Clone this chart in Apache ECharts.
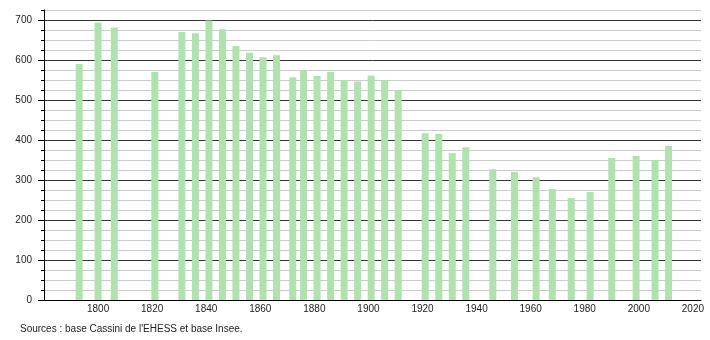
<!DOCTYPE html>
<html>
<head>
<meta charset="utf-8">
<script src="https://cdn.jsdelivr.net/npm/echarts@6/dist/echarts.min.js"></script>
<style>html,body{margin:0;padding:0;background:#fff}#c{width:710px;height:340px}</style>
</head>
<body>
<div id="c"></div>
<script>
const years = [1793, 1800, 1806, 1821, 1831, 1836, 1841, 1846, 1851, 1856, 1861, 1866, 1872, 1876, 1881, 1886, 1891, 1896, 1901, 1906, 1911, 1921, 1926, 1931, 1936, 1946, 1954, 1962, 1968, 1975, 1982, 1990, 1999, 2006, 2011];
const population = [590, 694, 681, 570, 670, 667, 699, 677, 635, 618, 607, 612, 557, 574, 560, 570, 550, 546, 561, 550, 525, 417, 415, 367, 382, 327, 320, 307, 277, 255, 270, 355, 360, 350, 385];
const yMajorTicks = [0, 100, 200, 300, 400, 500, 600, 700];
const xTickLabels = [1800, 1820, 1840, 1860, 1880, 1900, 1920, 1940, 1960, 1980, 2000, 2020];
const sourceText = "Sources : base Cassini de l'EHESS et base Insee.";

const font = 'Liberation Sans, Arial, sans-serif';
const chart = echarts.init(document.getElementById('c'), null, {renderer: 'canvas'});
chart.setOption({
  animation: false,
  backgroundColor: '#fff',
  grid: {left: 44, top: 10, width: 657, height: 290, containLabel: false},
  graphic: [{
    type: 'text', left: 20, top: 324,
    style: {text: sourceText, fill: '#222', font: '10px ' + font}
  }],
  xAxis: {
    type: 'value', min: 1780, max: 2023, interval: 20,
    axisLine: {show: true, lineStyle: {color: '#000', width: 1}},
    axisTick: {show: false},
    splitLine: {show: false},
    axisLabel: {
      margin: 4, color: '#222', fontSize: 10, fontFamily: font,
      formatter: v => xTickLabels.includes(v) ? String(v) : ''
    }
  },
  yAxis: [{
    type: 'value', min: 0, max: 725, interval: 25,
    axisLine: {show: true, lineStyle: {color: '#000', width: 1}},
    axisTick: {show: true, length: 3, lineStyle: {color: '#000'}},
    splitLine: {show: true, lineStyle: {color: ['#333', '#ccc', '#ccc', '#ccc'], width: 1}},
    axisLabel: {
      margin: 12, color: '#222', fontSize: 10, fontFamily: font,
      formatter: v => yMajorTicks.includes(v) ? String(v) : ''
    }
  }, {
    type: 'value', min: 0, max: 725, position: 'left',
    axisLine: {show: false},
    axisTick: {show: true, length: 6, customValues: yMajorTicks, lineStyle: {color: '#000'}},
    splitLine: {show: false},
    axisLabel: {show: false}
  }],
  series: [{
    type: 'bar',
    data: years.map((y, i) => [y, population[i]]),
    barWidth: 7,
    itemStyle: {color: '#b0e2b0'},
    z: 1
  }]
});
</script>
</body>
</html>
